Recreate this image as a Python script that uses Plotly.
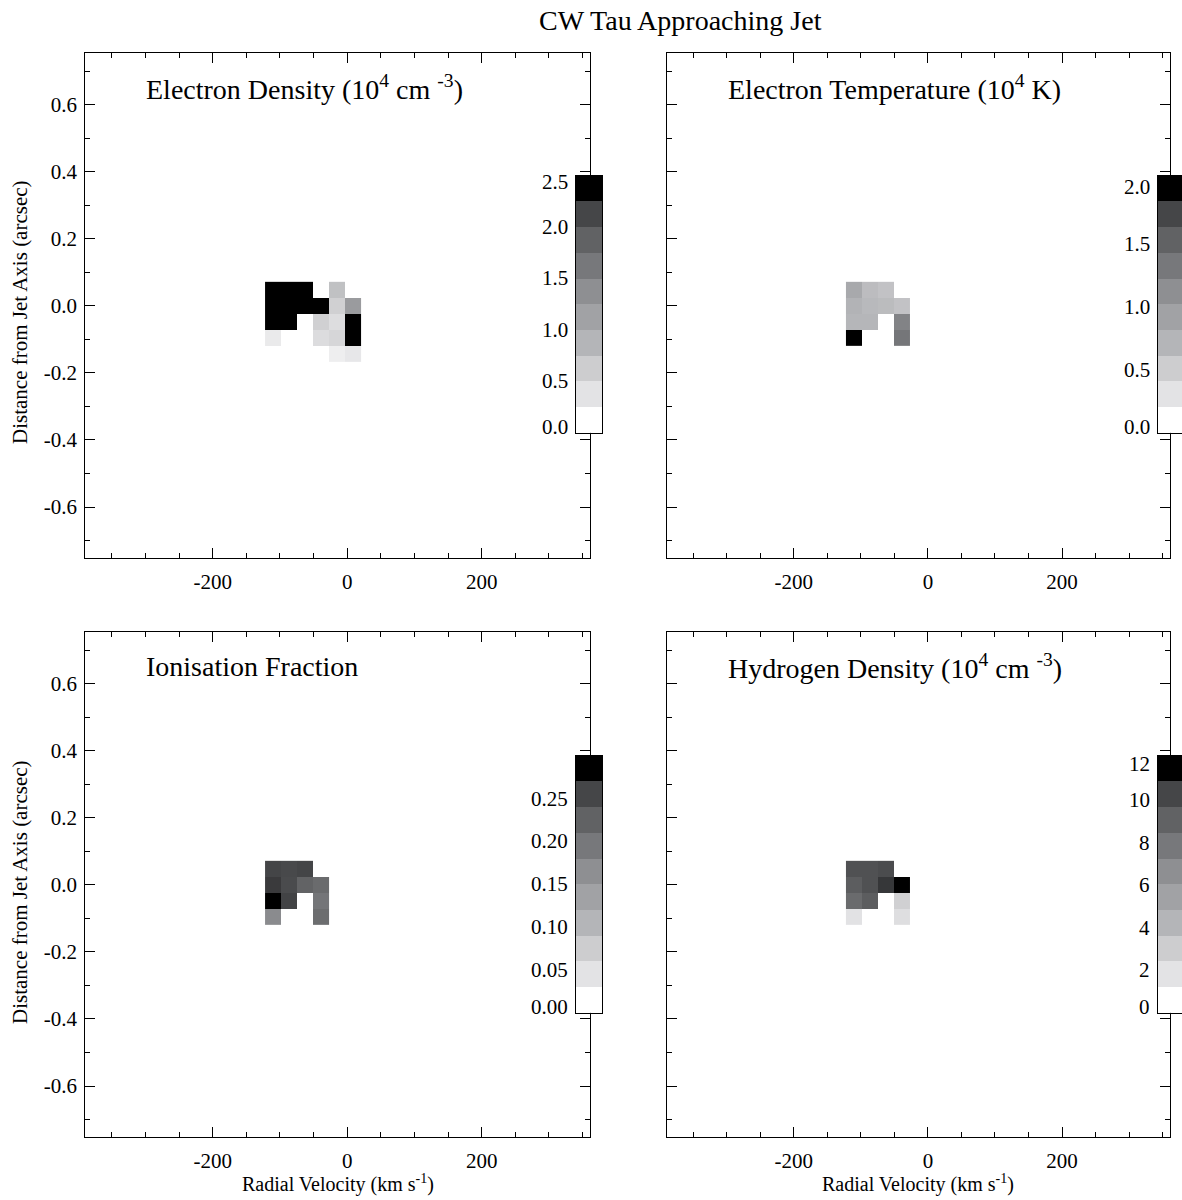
import plotly.graph_objects as go

# ---------------- data ----------------
velocity = [-110.3, -86.5, -62.7, -38.9, -15.1, 8.7]          # km/s, pixel centres
offset = [0.0477, 0.0, -0.0477, -0.0954, -0.1431]             # arcsec, pixel centres

electron_density = [
    [2.9, 3.0, 2.8, None, 0.63, None],
    [3.1, 2.9, 2.7, 2.6, 0.47, 1.09],
    [2.8, 2.7, None, 0.47, 0.32, 2.7],
    [0.19, None, None, 0.33, 0.40, 2.6],
    [None, None, None, None, 0.15, 0.21],
]
electron_temperature = [
    [0.74, 0.55, 0.50, None],
    [0.63, 0.58, 0.555, 0.50],
    [0.60, 0.60, None, 1.13],
    [2.2, None, None, 1.24],
]
ionisation_fraction = [
    [0.241, 0.237, 0.241, None],
    [0.250, 0.235, 0.209, 0.198],
    [0.31, 0.243, None, 0.184],
    [0.155, None, None, 0.195],
]
hydrogen_density = [
    [9.2, 9.2, 9.4, None],
    [8.7, 9.2, 10.2, 12.5],
    [8.0, 8.7, None, 2.25],
    [1.26, None, None, 1.49],
]

panel_titles = [
    "Electron Density (10<sup>4</sup> cm <sup>-3</sup>)",
    "Electron Temperature (10<sup>4</sup> K)",
    "Ionisation Fraction",
    "Hydrogen Density (10<sup>4</sup> cm <sup>-3</sup>)",
]
cbar_max = [2.5, 2.04, 0.30, 12.1]
cbar_ticks = [
    [0.0, 0.5, 1.0, 1.5, 2.0, 2.5],
    [0.0, 0.5, 1.0, 1.5, 2.0],
    [0.0, 0.05, 0.10, 0.15, 0.20, 0.25],
    [0, 2, 4, 6, 8, 10, 12],
]
cbar_ticktext = [
    ["0.0", "0.5", "1.0", "1.5", "2.0", "2.5"],
    ["0.0", "0.5", "1.0", "1.5", "2.0"],
    ["0.00", "0.05", "0.10", "0.15", "0.20", "0.25"],
    ["0", "2", "4", "6", "8", "10", "12"],
]
x_tickvals = [-200, 0, 200]
x_ticktext = ["-200", "0", "200"]
y_tickvals = [0.6, 0.4, 0.2, 0.0, -0.2, -0.4, -0.6]
y_ticktext = ["0.6", "0.4", "0.2", "0.0", "-0.2", "-0.4", "-0.6"]

level_colors = ['#FFFFFF', '#E3E3E5', '#CDCDCF', '#B4B5B8', '#A1A2A5',
                '#8E8F92', '#77787B', '#616264', '#454648', '#000000']

# ---------------- layout geometry (page pixels) ----------------
W, H = 1182, 1200
FONT = "Liberation Serif, Times New Roman, serif"
TICK_SIZE = 21

def px(x): return min(max(x / W, 0.0), 1.0)
def py(y): return min(max(1 - y / H, 0.0), 1.0)

panels = [  # left, right, top, bottom
    (85.3, 590.0, 53.0, 558.0),
    (666.7, 1170.0, 53.0, 558.0),
    (85.3, 590.0, 632.0, 1137.0),
    (666.7, 1170.0, 632.0, 1137.0),
]
cbars = [  # left, right, top, bottom
    (576.0, 602.0, 175.7, 432.7),
    (1158.0, 1184.0, 175.7, 432.7),
    (576.0, 602.0, 755.7, 1012.7),
    (1158.0, 1184.0, 755.7, 1012.7),
]

data_scale = [[i / 10, level_colors[i]] for i in range(9)] + [[0.9, '#232325'], [1.0, '#000000']]
disc_scale = []
for i, c in enumerate(level_colors):
    disc_scale += [[i / 10, c], [(i + 1) / 10, c]]

fig = go.Figure()
datasets = [
    (electron_density, velocity),
    (electron_temperature, velocity[:4]),
    (ionisation_fraction, velocity[:4]),
    (hydrogen_density, velocity[:4]),
]
for k, (z, xv) in enumerate(datasets):
    xa = f"x{2*k+1}" if k else "x"
    ya = f"y{2*k+1}" if k else "y"
    fig.add_trace(go.Heatmap(z=z, x=xv, y=offset[:len(z)], colorscale=data_scale,
                             zmin=0, zmax=cbar_max[k], showscale=False,
                             xaxis=xa, yaxis=ya, hoverinfo="skip"))

n_levels = len(level_colors)
for k in range(4):
    n = 2 * k + 2
    m = cbar_max[k]
    fig.add_trace(go.Heatmap(z=[[i] for i in range(n_levels)], x=[0],
                             y=[(i + 0.5) * m / n_levels for i in range(n_levels)],
                             colorscale=disc_scale, zmin=0, zmax=n_levels - 1e-9,
                             showscale=False, xaxis=f"x{n}", yaxis=f"y{n}",
                             hoverinfo="skip"))

layout = dict(width=W, height=H, margin=dict(l=0, r=0, t=0, b=0),
              paper_bgcolor="white", plot_bgcolor="white", showlegend=False,
              font=dict(family=FONT, color="black", size=TICK_SIZE))

annotations = []
for k in range(4):
    l, r, t, b = panels[k]
    n1 = 2 * k + 1
    xk = "xaxis" if k == 0 else f"xaxis{n1}"
    yk = "yaxis" if k == 0 else f"yaxis{n1}"
    show_y = k in (0, 2)
    layout[xk] = dict(domain=[px(l), px(r)], range=[-389.5, 361],
                      anchor="y" if k == 0 else f"y{n1}",
                      showline=True, linecolor="black", linewidth=1, mirror="ticks",
                      ticks="inside", ticklen=10, tickcolor="black", tickwidth=1,
                      tickvals=x_tickvals, ticktext=x_ticktext, ticklabelstandoff=5,
                      tickfont=dict(size=TICK_SIZE),
                      minor=dict(ticks="inside", ticklen=5, tickcolor="black",
                                 dtick=50, tick0=0, showgrid=False),
                      showgrid=False, zeroline=False)
    layout[yk] = dict(domain=[py(b), py(t)], range=[-0.752, 0.754],
                      anchor="x" if k == 0 else f"x{n1}",
                      showline=True, linecolor="black", linewidth=1, mirror="ticks",
                      ticks="inside", ticklen=10, tickcolor="black", tickwidth=1,
                      tickvals=y_tickvals, ticktext=y_ticktext,
                      showticklabels=show_y, ticklabelstandoff=3,
                      tickfont=dict(size=TICK_SIZE),
                      minor=dict(ticks="inside", ticklen=5, tickcolor="black",
                                 dtick=0.1, tick0=0, showgrid=False),
                      showgrid=False, zeroline=False)
    # colorbar axes
    cl, cr, ct, cb = cbars[k]
    n2 = 2 * k + 2
    m = cbar_max[k]
    layout[f"xaxis{n2}"] = dict(domain=[px(cl), px(cr)], range=[-0.5, 0.5],
                                anchor=f"y{n2}", showline=True, linecolor="black",
                                linewidth=1, mirror=True, ticks="", showticklabels=False,
                                showgrid=False, zeroline=False, fixedrange=True)
    layout[f"yaxis{n2}"] = dict(domain=[py(cb), py(ct)], range=[0, m],
                                anchor=f"x{n2}", showline=True, linecolor="black",
                                linewidth=1, mirror=True, ticks="", showticklabels=False,
                                showgrid=False, zeroline=False, fixedrange=True)
    hpx = cb - ct
    for v, s in zip(cbar_ticks[k], cbar_ticktext[k]):
        pos = cb - v / m * hpx
        shift = 0
        if pos < ct + 7:
            shift = -6
        elif pos > cb - 7:
            shift = 6
        annotations.append(dict(x=px(cl - 6), xref="paper", y=v, yref=f"y{n2}",
                                text=s, showarrow=False, xanchor="right",
                                yanchor="middle", yshift=shift,
                                font=dict(size=TICK_SIZE, family=FONT)))
    # panel title
    annotations.append(dict(x=px(l + 59), y=py(t + 34), xref="paper", yref="paper",
                            text=panel_titles[k], showarrow=False, xanchor="left",
                            yanchor="middle", font=dict(size=28, family=FONT)))

annotations.append(dict(x=px(680), y=py(21), xref="paper", yref="paper",
                        text="CW Tau Approaching Jet", showarrow=False,
                        xanchor="center", yanchor="middle", font=dict(size=28, family=FONT)))
for yc in (312, 892):
    annotations.append(dict(x=px(20), y=py(yc), xref="paper", yref="paper",
                            text="Distance from Jet Axis (arcsec)", showarrow=False,
                            textangle=-90, xanchor="center", yanchor="middle",
                            font=dict(size=21, family=FONT)))
for xc in (338, 918):
    annotations.append(dict(x=px(xc), y=py(1183), xref="paper", yref="paper",
                            text="Radial Velocity (km s<sup>-1</sup>)", showarrow=False,
                            xanchor="center", yanchor="middle",
                            font=dict(size=20, family=FONT)))

layout["annotations"] = annotations
fig.update_layout(**layout)
fig.write_html("out.html", config={"displayModeBar": False},
               post_script="document.body.style.margin='0';document.body.style.overflow='hidden';")
